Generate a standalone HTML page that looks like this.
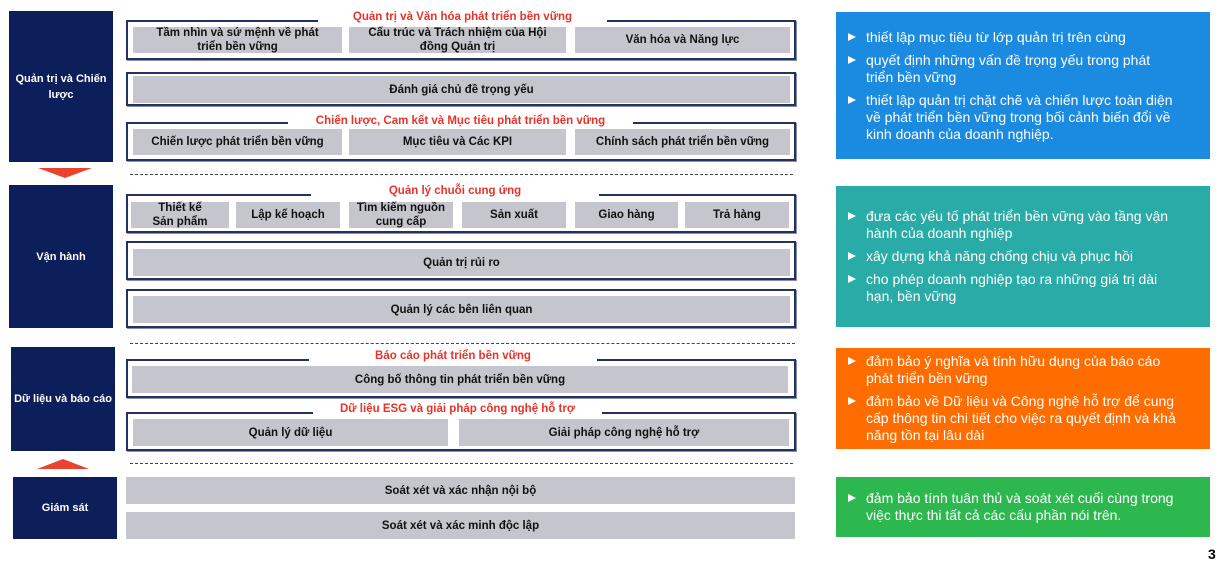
<!DOCTYPE html>
<html><head><meta charset="utf-8"><style>
body{margin:0;width:1219px;height:555px;background:#fff;position:relative;overflow:hidden;font-family:"Liberation Sans",sans-serif;}
div{position:absolute;box-sizing:border-box;}
.nv{background:#0c1f5b;color:#fff;font-size:11px;font-weight:bold;display:flex;align-items:center;justify-content:center;text-align:center;line-height:16px;}
.bx{border:2px solid #243262;box-shadow:1px 1px 0 #8890a8;}
.g{background:#c5c5cd;color:#111;font-size:11.5px;font-weight:bold;display:flex;align-items:center;justify-content:center;text-align:center;line-height:14px;}
.t{color:#e8332a;font-size:11.5px;font-weight:bold;background:#fff;text-align:center;white-space:nowrap;line-height:14px;}
.d{border-top:1.5px dashed #444;height:0;}
.p{color:#fff;font-size:14px;line-height:17px;padding:0 22px 0 30px;display:flex;flex-direction:column;justify-content:center;}
.p span{display:block;position:relative;margin:3px 0;}
.p span:before{content:"";position:absolute;left:-18px;top:4px;border-left:8px solid #fff;border-top:4.5px solid transparent;border-bottom:4.5px solid transparent;}
</style></head><body>
<div class="nv" style="left:9px;top:11px;width:104px;height:151px;">Quản trị và Chiến<br>lược</div>
<div style="left:38px;top:168px;width:0;height:0;border-left:27px solid transparent;border-right:27px solid transparent;border-top:10px solid #e8432f;"></div>
<div class="nv" style="left:9px;top:185px;width:104px;height:143px;">Vận hành</div>
<div class="nv" style="left:11px;top:347px;width:104px;height:104px;white-space:nowrap;">Dữ liệu và báo cáo</div>
<div style="left:37px;top:459px;width:0;height:0;border-left:26px solid transparent;border-right:26px solid transparent;border-bottom:10px solid #e8432f;"></div>
<div class="nv" style="left:13px;top:477px;width:104px;height:62px;">Giám sát</div>

<div class="bx" style="left:126px;top:20px;width:670px;height:40px;"></div>
<div class="t" style="left:318px;top:10px;width:289px;">Quản trị và Văn hóa phát triển bền vững</div>
<div class="g" style="left:133px;top:27px;width:209px;height:26px;">Tầm nhìn và sứ mệnh về phát<br>triển bền vững</div>
<div class="g" style="left:349px;top:27px;width:217px;height:26px;">Cấu trúc và Trách nhiệm của Hội<br>đồng Quản trị</div>
<div class="g" style="left:575px;top:27px;width:215px;height:26px;">Văn hóa và Năng lực</div>
<div class="bx" style="left:126px;top:72px;width:670px;height:34px;"></div>
<div class="g" style="left:133px;top:76px;width:657px;height:27px;">Đánh giá chủ đề trọng yếu</div>
<div class="bx" style="left:126px;top:122px;width:670px;height:39px;"></div>
<div class="t" style="left:288px;top:114px;width:345px;">Chiến lược, Cam kết và Mục tiêu phát triển bền vững</div>
<div class="g" style="left:133px;top:129px;width:209px;height:26px;">Chiến lược phát triển bền vững</div>
<div class="g" style="left:349px;top:129px;width:217px;height:26px;">Mục tiêu và Các KPI</div>
<div class="g" style="left:575px;top:129px;width:215px;height:26px;">Chính sách phát triển bền vững</div>
<div class="d" style="left:130px;top:174px;width:663px;"></div>
<div class="bx" style="left:126px;top:194px;width:670px;height:39px;"></div>
<div class="t" style="left:311px;top:184px;width:288px;">Quản lý chuỗi cung ứng</div>
<div class="g" style="left:131px;top:202px;width:98px;height:26px;">Thiết kế<br>Sản phẩm</div>
<div class="g" style="left:236px;top:202px;width:104px;height:26px;">Lập kế hoạch</div>
<div class="g" style="left:349px;top:202px;width:104px;height:26px;">Tìm kiếm nguồn<br>cung cấp</div>
<div class="g" style="left:462px;top:202px;width:104px;height:26px;">Sản xuất</div>
<div class="g" style="left:575px;top:202px;width:103px;height:26px;">Giao hàng</div>
<div class="g" style="left:685px;top:202px;width:104px;height:26px;">Trả hàng</div>
<div class="bx" style="left:126px;top:241px;width:670px;height:39px;"></div>
<div class="g" style="left:133px;top:249px;width:657px;height:27px;">Quản trị rủi ro</div>
<div class="bx" style="left:126px;top:289px;width:670px;height:39px;"></div>
<div class="g" style="left:133px;top:296px;width:657px;height:27px;">Quản lý các bên liên quan</div>
<div class="d" style="left:130px;top:343px;width:665px;"></div>
<div class="bx" style="left:126px;top:359px;width:670px;height:39px;"></div>
<div class="t" style="left:309px;top:349px;width:288px;">Báo cáo phát triển bền vững</div>
<div class="g" style="left:132px;top:366px;width:656px;height:27px;">Công bố thông tin phát triển bền vững</div>
<div class="bx" style="left:126px;top:412px;width:670px;height:39px;"></div>
<div class="t" style="left:313px;top:402px;width:289px;">Dữ liệu ESG và giải pháp công nghệ hỗ trợ</div>
<div class="g" style="left:133px;top:419px;width:315px;height:27px;">Quản lý dữ liệu</div>
<div class="g" style="left:459px;top:419px;width:330px;height:27px;">Giải pháp công nghệ hỗ trợ</div>
<div class="d" style="left:130px;top:463px;width:663px;"></div>
<div class="g" style="left:126px;top:477px;width:669px;height:27px;">Soát xét và xác nhận nội bộ</div>
<div class="g" style="left:126px;top:512px;width:669px;height:27px;">Soát xét và xác minh độc lập</div>

<div class="p" style="left:836px;top:12px;width:374px;height:147px;background:#1b8be1;">
<span>thiết lập mục tiêu từ lớp quản trị trên cùng</span>
<span>quyết định những vấn đề trọng yếu trong phát<br>triển bền vững</span>
<span>thiết lập quản trị chặt chẽ và chiến lược toàn diện về phát triển bền vững trong bối cảnh biến đổi về kinh doanh của doanh nghiệp.</span>
</div>
<div class="p" style="left:836px;top:186px;width:374px;height:141px;background:#29aba8;">
<span>đưa các yếu tố phát triển bền vững vào tầng vận hành của doanh nghiệp</span>
<span>xây dựng khả năng chống chịu và phục hồi</span>
<span>cho phép doanh nghiệp tạo ra những giá trị dài<br>hạn, bền vững</span>
</div>
<div class="p" style="left:836px;top:348px;width:374px;height:101px;background:#ff6d00;">
<span>đảm bảo ý nghĩa và tính hữu dụng của báo cáo phát triển bền vững</span>
<span>đảm bảo về Dữ liệu và Công nghệ hỗ trợ để cung cấp thông tin chi tiết cho việc ra quyết định và khả năng tồn tại lâu dài</span>
</div>
<div class="p" style="left:836px;top:477px;width:374px;height:60px;background:#2db84f;">
<span>đảm bảo tính tuân thủ và soát xét cuối cùng trong việc thực thi tất cả các cấu phần nói trên.</span>
</div>
<div style="left:1208px;top:546px;font-size:14px;font-weight:bold;color:#000;">3</div>
</body></html>
